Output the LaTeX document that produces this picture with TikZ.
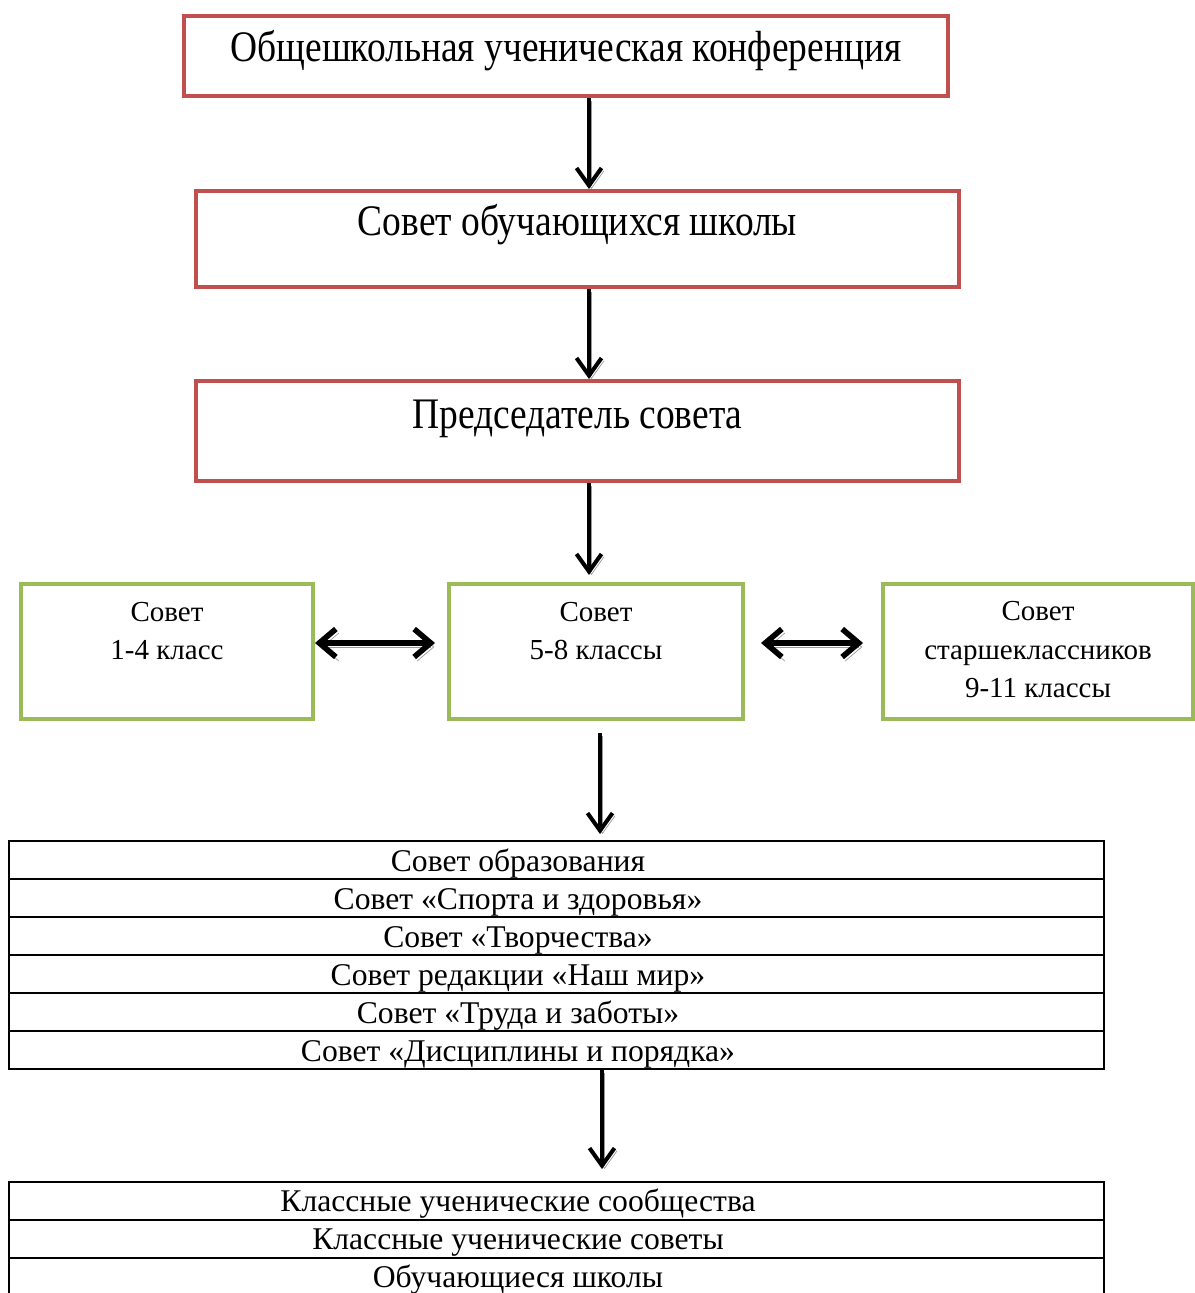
\documentclass[tikz,border=0pt]{standalone}
\usepackage{fontspec}
\setmainfont{Liberation Serif}
\newfontfamily\narrowserif[FakeStretch=0.86]{Liberation Serif}
\usetikzlibrary{arrows.meta, positioning}
\definecolor{redline}{HTML}{C0504D}
\definecolor{greenline}{HTML}{9BBB59}

\begin{document}
\begin{tikzpicture}[x=0.02cm, y=-0.02cm,
    >={Straight Barb[length=3.5mm, width=5mm]},
    redbox/.style={draw=redline, line width=2.3pt, inner sep=0pt, minimum width=15.28cm},
    greenbox/.style={draw=greenline, line width=2.3pt, inner sep=0pt, minimum width=5.84cm, minimum height=2.7cm},
    rowbox/.style={draw, line width=1.1pt, inner sep=0pt, minimum width=21.9cm, minimum height=0.76cm},
    bigtxt/.style={inner sep=0pt, font=\narrowserif\fontsize{24.8pt}{29pt}\selectfont},
    midtxt/.style={inner sep=0pt, align=center, font=\fontsize{16.5pt}{22pt}\selectfont},
    rowtxt/.style={inner sep=0pt, anchor=base, font=\fontsize{18pt}{22pt}\selectfont},
    arr/.style={line width=2.3pt, ->, preaction={draw=black!40, transform canvas={xshift=1.4pt, yshift=-1.6pt}}},
    darr/.style={line width=3.2pt, <->, >={Straight Barb[length=3.3mm, width=5.6mm]},
      preaction={draw=black!40, transform canvas={xshift=1.7pt, yshift=-2.3pt}}}]
  \useasboundingbox (0,0) rectangle (1195,1293);

  % red boxes
  \node[redbox, minimum height=1.6cm] (k) at (566,56) {};
  \node[redbox, minimum height=1.92cm] (s) at (577.5,239) {};
  \node[redbox, minimum height=2cm] (p) at (577.5,431) {};
  \node[bigtxt, below=0.96cm of k.north, anchor=base] (tk) {Общешкольная ученическая конференция};
  \node[bigtxt, below=0.94cm of s.north, anchor=base] (ts) {Совет обучающихся школы};
  \node[bigtxt, below=1cm of p.north, anchor=base] (tp) {Председатель совета};

  % green boxes
  \node[greenbox] (a) at (167,651.5) {};
  \node[greenbox, minimum width=5.88cm] (b) at (596,651.5) {};
  \node[greenbox, minimum width=6.2cm] (c) at (1038,651.5) {};
  \node[midtxt, below=1.56cm of a.north, anchor=base] (ta) {Совет\\1-4 класс};
  \node[midtxt, below=1.56cm of b.north, anchor=base] (tb) {Совет\\5-8 классы};
  \node[midtxt, below=2.32cm of c.north, anchor=base] (tc) {Совет\\старшеклассников\\9-11 классы};

  % tables
  \foreach \txt [count=\i] in {Совет образования, Совет «Спорта и здоровья», Совет «Творчества»,
      Совет редакции «Наш мир», Совет «Труда и заботы», Совет «Дисциплины и порядка»} {
    \node[rowbox] (r\i) at (556.5,{841+38*\i-19}) {};
    \node[rowtxt] (e\i) at (518,{841+38*\i-8}) {\txt};
  }
  \foreach \txt [count=\i] in {Классные ученические сообщества, Классные ученические советы, Обучающиеся школы} {
    \node[rowbox] (q\i) at (556.5,{1182+38*\i-19}) {};
    \node[rowtxt] (f\i) at (518,{1182+38*\i-9}) {\txt};
  }

  % arrows
  \coordinate (axis) at (589,0);
  \draw[arr] (k.south -| axis) -- (s.north -| axis);
  \draw[arr] (s.south -| axis) -- (p.north -| axis);
  \draw[arr, shorten >=0.14cm] (p.south -| axis) -- (b.north -| axis);
  \draw[darr, shorten >=0.24cm] ([yshift=0.17cm]a.east) -- ([yshift=0.17cm]b.west);
  \draw[darr, shorten <=0.32cm, shorten >=0.36cm] ([yshift=0.17cm]b.east) -- ([yshift=0.17cm]c.west);
  \draw[arr, shorten <=0.24cm, shorten >=0.12cm] ([xshift=0.08cm]b.south) -- ([xshift=0.08cm]b.south |- r1.north);
  \coordinate (d) at (602,0);
  \draw[arr, shorten >=0.24cm] (r6.south -| d) -- (q1.north -| d);
\end{tikzpicture}
\end{document}
